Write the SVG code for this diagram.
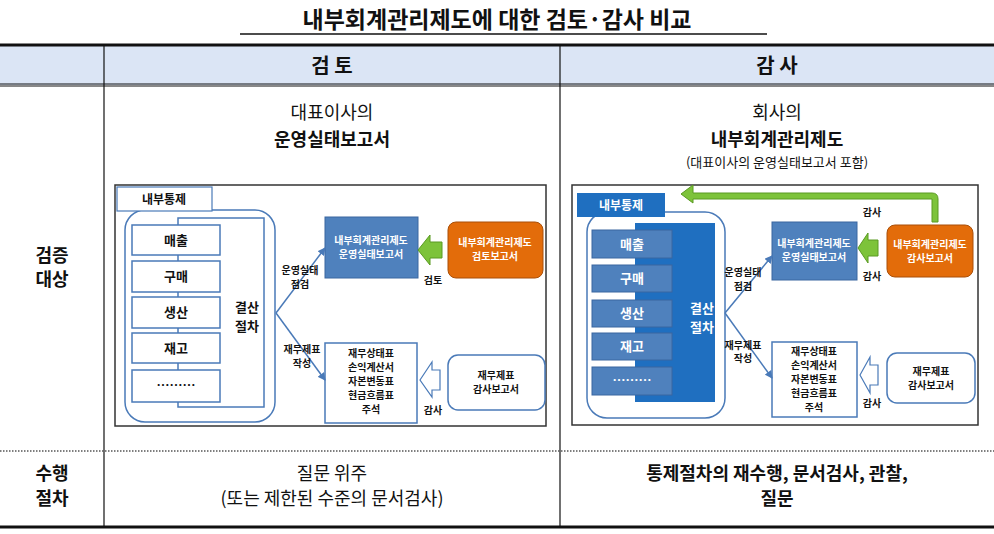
<svg xmlns="http://www.w3.org/2000/svg" width="994" height="534" viewBox="0 0 994 534">
<defs>
<style>
text{font-family:"Noto Sans CJK KR","Noto Sans",sans-serif;fill:#111;text-anchor:middle}
.h{font-size:20px;font-weight:bold}
.b{font-size:18px}
.s{font-size:10px;font-weight:bold}
.frame{fill:#fff;stroke:#333;stroke-width:1.5}
.ln{stroke:#4a7ab8;stroke-width:1.5;fill:none}
.wb{fill:#fff;stroke:#4a7ab8;stroke-width:1.5}
.mb{fill:#4f81bd;stroke:#3a66a0;stroke-width:1}
</style>
<marker id="ah" markerWidth="8" markerHeight="8" refX="7" refY="4" orient="auto" markerUnits="userSpaceOnUse"><path d="M0,0 L8,4 L0,8z" fill="#4a7ab8"/></marker>
</defs>
<g id="table">
<text x="497" y="28" class="h" style="font-size:23px">내부회계관리제도에 대한 검토·감사 비교</text>
<line x1="240" y1="34" x2="767" y2="34" stroke="#111" stroke-width="1.5"/>
<rect x="0" y="45" width="994" height="40" fill="#dbe5f5"/>
<line x1="0" y1="45" x2="994" y2="45" stroke="#111" stroke-width="3"/>
<line x1="0" y1="84" x2="994" y2="84" stroke="#111" stroke-width="1"/>
<line x1="0" y1="86" x2="994" y2="86" stroke="#111" stroke-width="1"/>
<line x1="104" y1="45" x2="104" y2="527" stroke="#111" stroke-width="1.2"/>
<line x1="560" y1="45" x2="560" y2="527" stroke="#111" stroke-width="1.2"/>
<line x1="0" y1="451" x2="994" y2="451" stroke="#555" stroke-width="1.5" stroke-dasharray="1.5,1.5"/>
<line x1="0" y1="527" x2="994" y2="527" stroke="#111" stroke-width="3"/>
<text x="332" y="73" class="h">검 토</text>
<text x="777" y="73" class="h">감 사</text>
<text x="332" y="119" class="b">대표이사의</text>
<text x="332" y="146" class="b" font-weight="bold">운영실태보고서</text>
<text x="777" y="119" class="b">회사의</text>
<text x="777" y="146" class="b" font-weight="bold">내부회계관리제도</text>
<text x="777" y="167" style="font-size:13px">(대표이사의 운영실태보고서 포함)</text>
<text x="52" y="262" class="b" font-weight="bold">검증</text>
<text x="52" y="286" class="b" font-weight="bold">대상</text>
<text x="52" y="480" class="b" font-weight="bold">수행</text>
<text x="52" y="505" class="b" font-weight="bold">절차</text>
<text x="332" y="480" class="b">질문 위주</text>
<text x="332" y="505" class="b">(또는 제한된 수준의 문서검사)</text>
<text x="777" y="480" class="b" font-weight="bold">통제절차의 재수행, 문서검사, 관찰,</text>
<text x="777" y="505" class="b" font-weight="bold">질문</text>
</g>
<g id="left-diagram">
<rect x="115" y="185" width="431" height="241" class="frame"/>
<rect x="125" y="210" width="150" height="212" rx="20" class="wb"/>
<rect x="117" y="187" width="95" height="24" fill="#fff" stroke="#4a7ab8" stroke-width="1.2"/>
<text x="164" y="204" style="font-size:12px;font-weight:bold">내부통제</text>
<rect x="178" y="218" width="86" height="189" class="wb"/>
<g style="font-size:13px;font-weight:bold">
<rect x="132" y="225" width="88" height="30" class="wb"/><text x="176" y="245">매출</text>
<rect x="132" y="261" width="88" height="31" class="wb"/><text x="176" y="281">구매</text>
<rect x="132" y="297" width="88" height="31" class="wb"/><text x="176" y="317">생산</text>
<rect x="132" y="333" width="88" height="30" class="wb"/><text x="176" y="353">재고</text>
<rect x="132" y="370" width="88" height="32" class="wb"/><text x="176" y="390">………</text>
<text x="247" y="312">결산</text><text x="247" y="331">절차</text>
</g>
<rect x="325" y="217" width="93" height="61" fill="#4f81bd" stroke="#3a66a0"/>
<text x="371" y="244" class="s" style="fill:#fff">내부회계관리제도</text>
<text x="371" y="258" class="s" style="fill:#fff">운영실태보고서</text>
<rect x="448" y="222" width="95" height="56" rx="8" fill="#e36c0a" stroke="#a94f08"/>
<text x="495" y="246" class="s" style="fill:#fff">내부회계관리제도</text>
<text x="495" y="260" class="s" style="fill:#fff">검토보고서</text>
<path d="M418,250 L430,235 L430,242 L442,242 L442,258 L430,258 L430,265 Z" fill="#7dc33a" stroke="#5a9a22"/>
<text x="433" y="284" class="s">검토</text>
<rect x="325" y="343" width="92" height="80" class="wb"/>
<g class="s"><text x="371" y="357">재무상태표</text><text x="371" y="371">손익계산서</text><text x="371" y="385">자본변동표</text><text x="371" y="399">현금흐름표</text><text x="371" y="413">주석</text></g>
<rect x="448" y="355" width="97" height="55" rx="10" class="wb"/>
<text x="496" y="379" class="s">재무제표</text><text x="496" y="393" class="s">감사보고서</text>
<path d="M420,380 L432,362 L432,370 L440,370 L440,390 L432,390 L432,397 Z" fill="#fff" stroke="#4a7ab8" stroke-width="1.2"/>
<text x="433" y="414" class="s">감사</text>
</g>
<g id="right-diagram">
<rect x="572" y="185" width="406" height="240" class="frame"/>
<rect x="587" y="212" width="138" height="206" rx="20" class="wb"/>
<rect x="577" y="193" width="88" height="24" fill="#1f6fc0"/>
<text x="621" y="210" style="font-size:12px;font-weight:bold;fill:#fff">내부통제</text>
<rect x="635" y="223" width="80" height="179" fill="#1f6fc0"/>
<g style="font-size:13px;font-weight:bold">
<rect x="592" y="230" width="80" height="28" class="mb"/><text x="632" y="249" style="fill:#fff">매출</text>
<rect x="592" y="265" width="80" height="27" class="mb"/><text x="632" y="283" style="fill:#fff">구매</text>
<rect x="592" y="300" width="80" height="27" class="mb"/><text x="632" y="318" style="fill:#fff">생산</text>
<rect x="592" y="333" width="80" height="27" class="mb"/><text x="632" y="351" style="fill:#fff">재고</text>
<rect x="592" y="367" width="80" height="28" class="mb"/><text x="632" y="385" style="fill:#fff">………</text>
<text x="702" y="313" style="fill:#fff">결산</text><text x="702" y="332" style="fill:#fff">절차</text>
</g>
<rect x="772" y="222" width="85" height="58" fill="#4f81bd" stroke="#3a66a0"/>
<text x="814" y="247" class="s" style="fill:#fff">내부회계관리제도</text>
<text x="814" y="261" class="s" style="fill:#fff">운영실태보고서</text>
<rect x="887" y="225" width="86" height="52" rx="8" fill="#e36c0a" stroke="#a94f08"/>
<text x="930" y="248" class="s" style="fill:#fff">내부회계관리제도</text>
<text x="930" y="262" class="s" style="fill:#fff">감사보고서</text>
<path d="M858,248 L868,233 L868,240 L878,240 L878,256 L868,256 L868,263 Z" fill="#7dc33a" stroke="#5a9a22"/>
<path d="M938,222 L938,199 Q938,193 932,193 L693,193 L693,185 L681,194 L693,203 L693,199 L932,199 L932,222 Z" fill="#7dc33a" stroke="#5a9a22"/>
<text x="872" y="216" class="s">감사</text>
<text x="872" y="280" class="s">감사</text>
<rect x="772" y="342" width="85" height="75" class="wb"/>
<g class="s"><text x="814" y="355">재무상태표</text><text x="814" y="369">손익계산서</text><text x="814" y="383">자본변동표</text><text x="814" y="397">현금흐름표</text><text x="814" y="411">주석</text></g>
<rect x="887" y="353" width="88" height="50" rx="10" class="wb"/>
<text x="931" y="375" class="s">재무제표</text><text x="931" y="389" class="s">감사보고서</text>
<path d="M860,375 L870,357 L870,365 L878,365 L878,385 L870,385 L870,393 Z" fill="#fff" stroke="#4a7ab8" stroke-width="1.2"/>
<text x="872" y="407" class="s">감사</text>
</g>
<g id="connectors">
<path d="M276,313 L325,248" class="ln" marker-end="url(#ah)"/>
<path d="M276,313 L325,380" class="ln" marker-end="url(#ah)"/>
<path d="M725,313 L772,256" class="ln" marker-end="url(#ah)"/>
<path d="M725,313 L772,378" class="ln" marker-end="url(#ah)"/>
<g class="s"><text x="300" y="274">운영실태</text><text x="300" y="288">점검</text>
<text x="302" y="353">재무제표</text><text x="302" y="367">작성</text>
<text x="743" y="276">운영실태</text><text x="743" y="290">점검</text>
<text x="743" y="349">재무제표</text><text x="743" y="362">작성</text></g>
</g>
</svg>
